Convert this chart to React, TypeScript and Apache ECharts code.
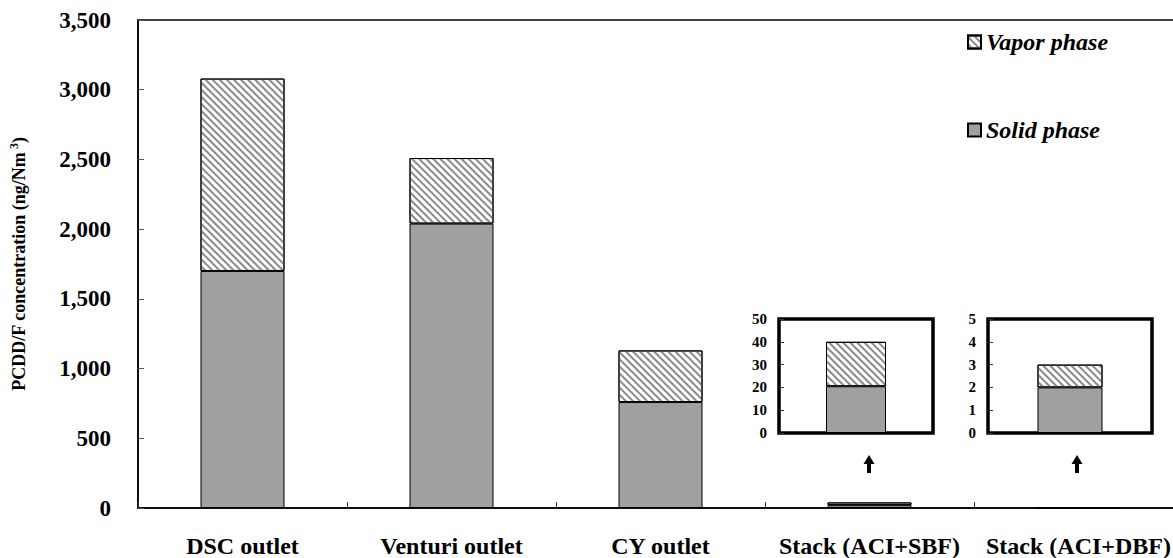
import React, { useEffect, useRef } from "react";
import * as echarts from "echarts";

const categories = ["DSC outlet", "Venturi outlet", "CY outlet", "Stack (ACI+SBF)", "Stack (ACI+DBF)"];
const solidPhase = [1700, 2040, 760, 20.5, 2];
const vaporPhase = [1380, 470, 370, 19.5, 1];
const mainTicks = [0, 500, 1000, 1500, 2000, 2500, 3000, 3500];
const insetSbfTicks = [0, 10, 20, 30, 40, 50];
const insetDbfTicks = [0, 1, 2, 3, 4, 5];

const FONT = "'Liberation Serif', 'Times New Roman', serif";
const SOLID_COLOR = "#a0a0a0";
const hatch = {
  symbol: "rect",
  symbolSize: 1,
  dashArrayX: [1, 0],
  dashArrayY: [2, 2.4],
  rotation: Math.PI / 4,
  color: "#8a8a8a",
};

export default function App() {
  const ref = useRef<HTMLDivElement>(null);
  useEffect(() => {
    document.documentElement.style.overflow = "hidden";
    document.body.style.overflow = "hidden";
    const chart = echarts.init(ref.current!, null, { renderer: "svg" });
    const solidStyle = { color: SOLID_COLOR, borderColor: "#000", borderWidth: 1 };
    const vaporStyle = { color: "#fff", borderColor: "#000", borderWidth: 1, decal: hatch };
    const insetY = (ticks: number[]) => ({
      type: "value",
      min: ticks[0],
      max: ticks[ticks.length - 1],
      interval: ticks[1] - ticks[0],
      axisLine: { show: false },
      axisTick: { show: true, inside: true, length: 5, lineStyle: { color: "#333" } },
      splitLine: { show: false },
      axisLabel: { fontFamily: FONT, fontWeight: "bold", fontSize: 15, color: "#000", margin: 12 },
    });
    const insetX = (cat: string) => ({
      type: "category",
      data: [cat],
      axisLine: { show: false },
      axisTick: { show: false },
      axisLabel: { show: false },
    });
    chart.setOption({
      animation: false,
      backgroundColor: "#fff",
      legend: {
        orient: "vertical",
        left: 962,
        top: 25,
        itemGap: 64,
        itemWidth: 13,
        itemHeight: 13,
        icon: "rect",
        data: ["Vapor phase", "Solid phase"],
        textStyle: { fontFamily: FONT, fontWeight: "bold", fontStyle: "italic", fontSize: 24, color: "#000" },
      },
      grid: [
        { left: 138, top: 20, width: 1045, height: 489, show: true, borderColor: "#000", borderWidth: 1.5 },
        { left: 779, top: 319, width: 154, height: 114, show: true, borderColor: "#000", borderWidth: 3.5 },
        { left: 988, top: 319, width: 164, height: 114, show: true, borderColor: "#000", borderWidth: 3.5 },
      ],
      xAxis: [
        {
          type: "category",
          gridIndex: 0,
          data: categories,
          axisLine: { lineStyle: { color: "#000", width: 1.5 } },
          axisTick: { show: true, inside: true, length: 6, lineStyle: { color: "#333" } },
          axisLabel: { interval: 0, fontFamily: FONT, fontWeight: "bold", fontSize: 24, color: "#000", margin: 26 },
        },
        { gridIndex: 1, ...insetX(categories[3]) },
        { gridIndex: 2, ...insetX(categories[4]) },
      ],
      yAxis: [
        {
          type: "value",
          gridIndex: 0,
          min: mainTicks[0],
          max: mainTicks[mainTicks.length - 1],
          interval: mainTicks[1] - mainTicks[0],
          axisLine: { show: true, lineStyle: { color: "#000", width: 1.5 } },
          axisTick: { show: true, inside: true, length: 6, lineStyle: { color: "#555" } },
          splitLine: { show: false },
          axisLabel: {
            fontFamily: FONT,
            fontWeight: "bold",
            fontSize: 23,
            color: "#000",
            margin: 27,
            formatter: (v: number) => v.toLocaleString("en-US"),
          },
          name: "{a|PCDD/F concentration (ng/Nm}{s| 3}{a|)}",
          nameLocation: "middle",
          nameGap: 108,
          nameRotate: 90,
          nameTextStyle: {
            rich: {
              a: { fontFamily: FONT, fontWeight: "bold", fontSize: 18, color: "#000" },
              s: { fontFamily: FONT, fontWeight: "bold", fontSize: 12, color: "#000", verticalAlign: "top", padding: [0, 0, 10, 0] },
            },
          },
        },
        { gridIndex: 1, ...insetY(insetSbfTicks) },
        { gridIndex: 2, ...insetY(insetDbfTicks) },
      ],
      series: [
        { name: "Solid phase", type: "bar", stack: "m", xAxisIndex: 0, yAxisIndex: 0, barWidth: 84, data: solidPhase, itemStyle: solidStyle },
        { name: "Vapor phase", type: "bar", stack: "m", xAxisIndex: 0, yAxisIndex: 0, barWidth: 84, data: vaporPhase, itemStyle: vaporStyle },
        { name: "Solid phase", type: "bar", stack: "s", xAxisIndex: 1, yAxisIndex: 1, barWidth: 60, data: [solidPhase[3]], itemStyle: solidStyle },
        { name: "Vapor phase", type: "bar", stack: "s", xAxisIndex: 1, yAxisIndex: 1, barWidth: 60, data: [vaporPhase[3]], itemStyle: vaporStyle },
        { name: "Solid phase", type: "bar", stack: "d", xAxisIndex: 2, yAxisIndex: 2, barWidth: 65, data: [solidPhase[4]], itemStyle: solidStyle },
        { name: "Vapor phase", type: "bar", stack: "d", xAxisIndex: 2, yAxisIndex: 2, barWidth: 65, data: [vaporPhase[4]], itemStyle: vaporStyle },
      ],
      graphic: [869, 1077].map((cx) => ({
        type: "polygon",
        shape: {
          points: [
            [cx, 455],
            [cx + 5.5, 464],
            [cx + 2, 464],
            [cx + 2, 473],
            [cx - 2, 473],
            [cx - 2, 464],
            [cx - 5.5, 464],
          ],
        },
        style: { fill: "#000" },
      })),
    });
    return () => chart.dispose();
  }, []);
  return <div ref={ref} style={{ position: "fixed", left: 0, top: 0, width: 1190, height: 558 }} />;
}
